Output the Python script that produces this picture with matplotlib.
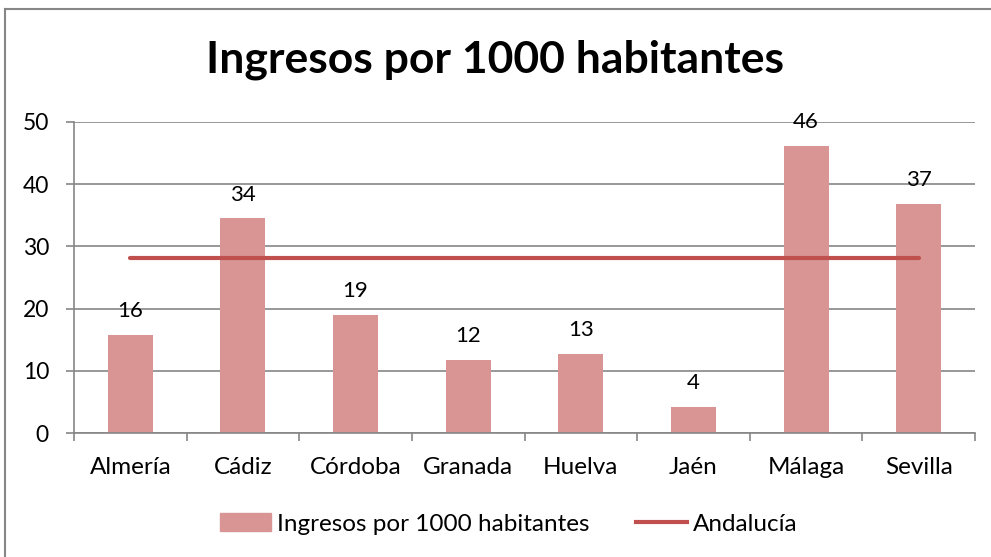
import matplotlib.pyplot as plt
import numpy as np
from matplotlib.lines import Line2D

provincias = ['Almería', 'Cádiz', 'Córdoba', 'Granada', 'Huelva', 'Jaén', 'Málaga', 'Sevilla']
ingresos = [15.7, 34.5, 19.0, 11.7, 12.7, 4.2, 46.1, 36.8]
etiquetas = ['16', '34', '19', '12', '13', '4', '46', '37']
andalucia = [28.1] * 8

plt.rcParams['font.family'] = ['Lato', 'DejaVu Sans']

fig = plt.figure(figsize=(9.91, 5.57), dpi=100)
ax = fig.add_axes([74/991, 1 - 433/557, (975-74)/991, (433-122)/557])

x = np.arange(len(provincias))
barras = ax.bar(x, ingresos, width=0.4, color='#d99594', zorder=2, label='Ingresos por 1000 habitantes')
ax.plot(x, andalucia, color='#c0504d', lw=3, solid_capstyle='round', zorder=3, label='Andalucía')

for xi, v, t in zip(x, ingresos, etiquetas):
    ax.annotate(t, (xi, v), xytext=(0, 10), textcoords='offset points',
                ha='center', va='bottom', fontsize=16, color='black')

ax.set_xlim(-0.5, 7.5)
ax.set_ylim(0, 50)
ax.set_yticks(range(0, 51, 10))
ax.set_xticks(x)
ax.set_xticklabels(provincias)
ax.set_xticks(np.arange(-0.5, 8, 1), minor=True)
ax.tick_params(axis='x', which='major', length=0, pad=17, labelsize=17.5)
ax.tick_params(axis='x', which='minor', length=6, color='#868686', width=1.2)
ax.tick_params(axis='y', length=6, color='#868686', width=1.2, labelsize=16.5, pad=12)
ax.yaxis.grid(True, color='#868686', lw=1.2, zorder=0)
for s in ['top', 'right']:
    ax.spines[s].set_visible(False)
for s in ['left', 'bottom']:
    ax.spines[s].set_color('#868686')
    ax.spines[s].set_linewidth(1.2)

fig.text(0.5, 1 - 60/557, 'Ingresos por 1000 habitantes', ha='center', va='center',
         fontsize=32, fontweight='bold')

handles = [plt.Rectangle((0, 0), 1, 1, color='#d99594'),
           Line2D([0], [0], color='#c0504d', lw=3)]
fig.legend(handles, ['Ingresos por 1000 habitantes', 'Andalucía'], loc='center',
           bbox_to_anchor=(509/991, 1 - 524/557), ncol=2, frameon=False, fontsize=17.5,
           handlelength=2.1, handletextpad=0.25, columnspacing=1.9)

# borde del area del grafico
fig.add_artist(Line2D([5/991, 1], [1 - 9/557, 1 - 9/557], color='#868686', lw=1.5))
fig.add_artist(Line2D([5/991, 5/991], [0, 1 - 9/557], color='#868686', lw=1.5))

fig.savefig('out.png', dpi=100)
